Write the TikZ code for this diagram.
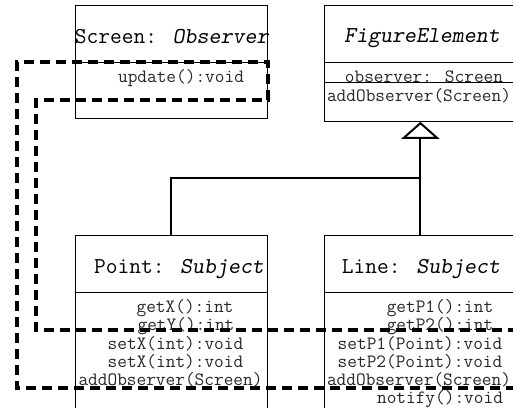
\documentclass[tikz,border=0pt]{standalone}
\usepackage{fontspec}
\usetikzlibrary{arrows.meta, positioning, calc}
\tikzset{
  klasse/.style={rectangle, draw=black, line width=0.8pt, minimum width=192pt, inner sep=0pt, anchor=north west},
  titel/.style={font=\ttfamily\fontsize{22.8}{24}\selectfont, inner sep=0pt},
  methode/.style={font=\ttfamily\fontsize{18.8}{20}\selectfont, inner sep=0pt, text=black!85},
  trenner/.style={line width=0.8pt},
  erbt/.style={line width=2pt, -{Triangle[open, length=17pt, width=38pt]}},
  schnitt/.style={line width=3.6pt, dash pattern=on 10pt off 6pt}
}
\begin{document}
\begin{tikzpicture}[x=1pt, y=-1pt]
  \useasboundingbox (0,0) rectangle (513,407);
  % Klassen oben
  \node (screen) [klasse, minimum height=113pt] at (75,5) {};
  \node (figure) [klasse, minimum height=116pt] at (324,5) {};
  \draw [trenner] (screen.west |- 0,62) -- (screen.east |- 0,62);
  \draw [trenner] (figure.west |- 0,62) -- (figure.east |- 0,62);
  \draw [trenner] (figure.west |- 0,82) -- (figure.east |- 0,82);
  \node (screentit) [titel] at (172,37) {Screen: \textsl{Observer}};
  \node (figtit) [titel] at (422,38) {\textsl{FigureElement}};
  \node (upd) [methode] at (181,78) {update():void};
  \node (obs) [methode] at (424,77) {observer: Screen};
  \node (figadd) [methode] at (419,96) {addObserver(Screen)};
  % Klassen unten
  \node (point) [klasse, minimum height=180pt] at (75,235) {};
  \node (line) [klasse, minimum height=180pt] at (324,235) {};
  \draw [trenner] (point.west |- 0,292) -- (point.east |- 0,292);
  \draw [trenner] (line.west |- 0,292) -- (line.east |- 0,292);
  \node (pointtit) [titel] at (179,269) {Point: \textsl{Subject}};
  \node (linetit) [titel] at (421,269) {Line: \textsl{Subject}};
  \node (getx) [methode] at (185,308) {getX():int};
  \node (gety) [methode] at (186,326) {getY():int};
  \node (setxa) [methode] at (175.5,344) {setX(int):void};
  \node (setxb) [methode] at (175.5,362) {setX(int):void};
  \node (pointadd) [methode] at (170.5,380) {addObserver(Screen)};
  \node (getpa) [methode] at (440,308) {getP1():int};
  \node (getpb) [methode] at (440,326) {getP2():int};
  \node (setpa) [methode] at (420,344) {setP1(Point):void};
  \node (setpb) [methode] at (420,362) {setP2(Point):void};
  \node (lineadd) [methode] at (419,380) {addObserver(Screen)};
  \node (notify) [methode] at (440,399) {notify():void};
  % Vererbung
  \coordinate (gabel) at (line.north |- 0,178);
  \draw [erbt] (line.north) -- (figure.south);
  \draw [line width=2pt] (point.north) |- (gabel);
  % Schnitt
  \draw [schnitt] (516,388) -- (17,388) -- (17,62) -- (268,62) -- (268,100)
    -- (36,100) -- (36,330) -- (516,330);
\end{tikzpicture}
\end{document}
